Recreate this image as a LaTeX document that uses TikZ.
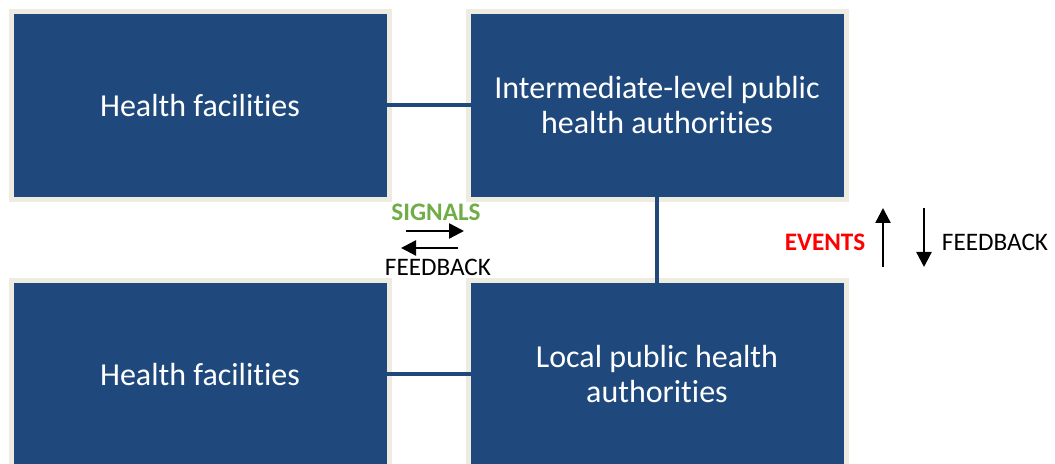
\documentclass[tikz,border=0pt]{standalone}
\usepackage{fontspec}
\setmainfont{Carlito}[Ligatures=NoCommon]
\usetikzlibrary{positioning,arrows.meta}

\definecolor{boxblue}{HTML}{1F497D}
\definecolor{boxrim}{HTML}{EEECE1}
\definecolor{signalgreen}{HTML}{70AD47}

\tikzset{
	level/.style={fill=boxblue, draw=boxrim, line width=2.5pt, text=white,
		minimum width=189pt, minimum height=94pt, inner sep=0pt, align=center,
		font=\fontsize{16}{17.5}\selectfont},
	link/.style={draw=boxblue, line width=2pt, shorten <=-2.5pt, shorten >=-2.5pt},
	flow/.style={line width=1.2pt, -{Triangle[length=7.5pt,width=7.5pt]}},
	tag/.style={font=\fontsize{12.6}{14}\selectfont}
}

\begin{document}
\begin{tikzpicture}[x=0.5pt, y=0.5pt]

	\clip (0,0) rectangle (1055,464);

	% the four levels
	\node[level] (hfTop) at (200,358.5) {Health facilities};
	\node[level, right=37pt of hfTop] (interAuth) {Intermediate-level public\\health authorities};
	\node[level, below=38pt of hfTop] (hfBot) {Health facilities};
	\node[level, below=38pt of interAuth] (localAuth) {Local public health\\authorities};

	% links between levels
	\draw[link] (hfTop.east) -- (interAuth.west);
	\draw[link] (hfBot.east) -- (localAuth.west);
	\draw[link] (interAuth.south) -- (localAuth.north);

	% signals and feedback, horizontal
	\coordinate (sigA) at (406,233);
	\coordinate (sigB) at (464,233);
	\coordinate (fbA) at (458,216);
	\coordinate (fbB) at (401,216);
	\draw[flow] (sigA) -- (sigB);
	\draw[flow] (fbA) -- (fbB);
	\node[tag, text=signalgreen] (sigLabel) at (436,252) {\bfseries SIGNALS};
	\node[tag] (fbLabel) at (438,197) {FEEDBACK};

	% events and feedback, vertical
	\coordinate (evA) at (883,197);
	\coordinate (evB) at (883,256);
	\coordinate (fbC) at (924,256);
	\coordinate (fbD) at (924,197);
	\draw[flow] (evA) -- (evB);
	\draw[flow] (fbC) -- (fbD);
	\node[tag, text=red] (evLabel) at (825,222) {\bfseries EVENTS};
	\node[tag] (fbLabelR) at (995,222) {FEEDBACK};

\end{tikzpicture}
\end{document}
